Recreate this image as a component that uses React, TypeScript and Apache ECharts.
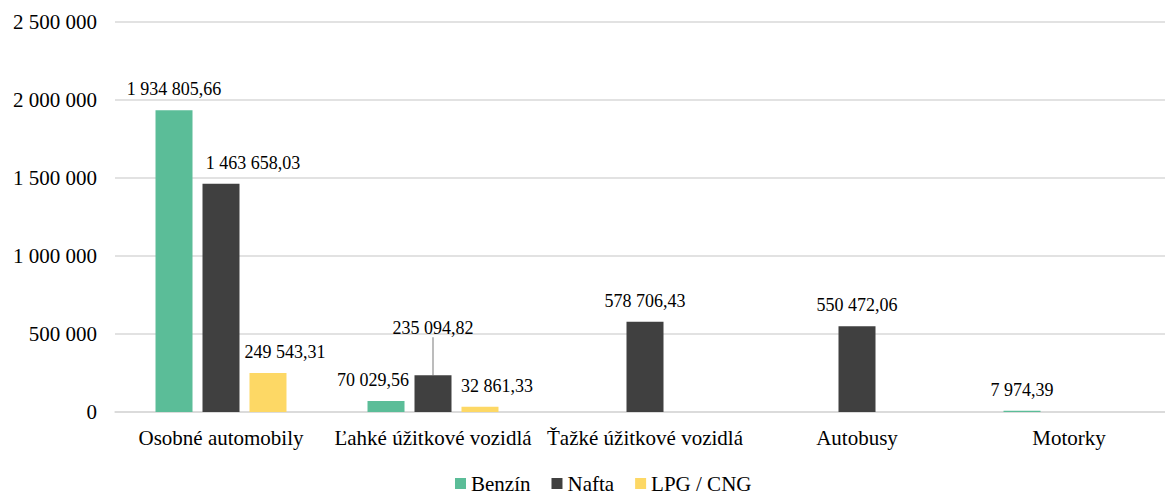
import React, { useEffect, useRef } from "react";
import * as echarts from "echarts";

const categories = [
  "Osobné automobily",
  "Ľahké úžitkové vozidlá",
  "Ťažké úžitkové vozidlá",
  "Autobusy",
  "Motorky",
];
const seriesNames = ["Benzín", "Nafta", "LPG / CNG"];
const benzin: (number | null)[] = [1934805.66, 70029.56, null, null, 7974.39];
const nafta: (number | null)[] = [1463658.03, 235094.82, 578706.43, 550472.06, null];
const lpg: (number | null)[] = [249543.31, 32861.33, null, null, null];
const yTicks = [0, 500000, 1000000, 1500000, 2000000, 2500000];

const colors = ["#5BBD98", "#404040", "#FDD865"];

// label nudges (styling), per series per category
const labelDx = [
  [0, -13, 0, 0, 0],
  [32, 0, 0, 0, 0],
  [17, 17, 0, 0, 0],
];
const labelDy = [
  [0, 0, 0, 0, 0],
  [0, -26, 0, 0, 0],
  [0, 0, 0, 0, 0],
];

const FONT = "'Liberation Serif', 'Times New Roman', serif";

function fmtNum(v: number, decimals: number): string {
  const fixed = v.toFixed(decimals);
  const [intPart, dec] = fixed.split(".");
  const grouped = intPart.replace(/\B(?=(\d{3})+(?!\d))/g, " ");
  return dec ? grouped + "," + dec : grouped;
}

export default function App() {
  const ref = useRef<HTMLDivElement>(null);
  useEffect(() => {
    if (!ref.current) return;
    const chart = echarts.init(ref.current, null, { renderer: "svg" });
    const all = [benzin, nafta, lpg];
    const series = all.map((vals, si) => ({
      name: seriesNames[si],
      type: "bar",
      barWidth: 37,
      barGap: "27%",
      itemStyle: { color: colors[si] },
      label: {
        show: true,
        position: "top",
        distance: 12,
        fontFamily: FONT,
        fontSize: 18,
        color: "#000",
        formatter: (p: any) => fmtNum(p.value, 2),
      },
      labelLayout: (p: any) => ({
        dx: labelDx[si][p.dataIndex] || 0,
        dy: labelDy[si][p.dataIndex] || 0,
      }),
      data: vals.map((v, ci) => {
        const item: any = { value: v };
        if (labelDy[si][ci] !== 0) {
          item.labelLine = {
            show: true,
            lineStyle: { color: "#A6A6A6", width: 1.5 },
          };
        }
        return item;
      }),
    }));
    chart.setOption({
      animation: false,
      textStyle: { fontFamily: FONT },
      legend: {
        data: seriesNames,
        left: 450,
        top: 468,
        itemWidth: 11,
        itemHeight: 11,
        itemGap: 21,
        icon: "rect",
        textStyle: { fontFamily: FONT, fontSize: 21, color: "#000" },
      },
      grid: { left: 115, right: 0, top: 22, bottom: 82, containLabel: false },
      xAxis: {
        type: "category",
        data: categories,
        axisTick: { show: false },
        axisLine: { lineStyle: { color: "#D9D9D9", width: 1.5 } },
        axisLabel: {
          fontFamily: FONT,
          fontSize: 21,
          color: "#000",
          margin: 15,
          interval: 0,
        },
      },
      yAxis: {
        type: "value",
        min: yTicks[0],
        max: yTicks[yTicks.length - 1],
        interval: yTicks[1] - yTicks[0],
        axisLine: { show: false },
        axisTick: { show: false },
        splitLine: { lineStyle: { color: "#D9D9D9", width: 1.5 } },
        axisLabel: {
          fontFamily: FONT,
          fontSize: 21,
          color: "#000",
          margin: 18,
          formatter: (v: number) => fmtNum(v, 0),
        },
      },
      series,
    });
    return () => chart.dispose();
  }, []);
  return (
    <div
      style={{
        position: "fixed",
        left: 0,
        top: 0,
        width: 1165,
        height: 494,
        overflow: "hidden",
        background: "#fff",
      }}
    >
      <div ref={ref} style={{ width: 1175, height: 494 }} />
    </div>
  );
}
